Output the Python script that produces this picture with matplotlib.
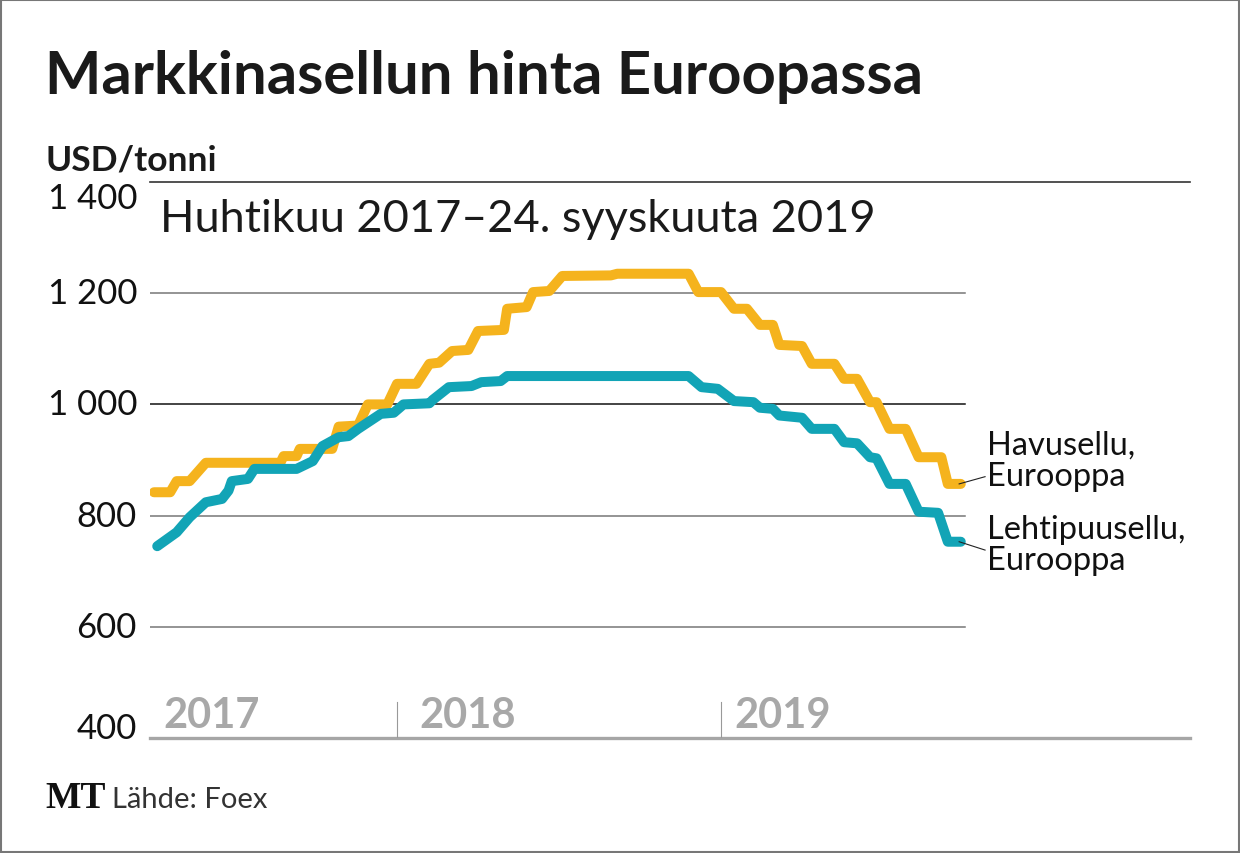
import matplotlib
matplotlib.use("Agg")
import matplotlib.pyplot as plt
from matplotlib import font_manager
from matplotlib.patches import Rectangle

# Havusellu, Eurooppa (USD/tonni), x = vuosi desimaalina
havu_x = [2017.25, 2017.30, 2017.32, 2017.36, 2017.41, 2017.64, 2017.65, 2017.69,
          2017.70, 2017.80, 2017.82, 2017.88, 2017.91, 2017.97, 2018.00, 2018.06,
          2018.10, 2018.13, 2018.17, 2018.22, 2018.25, 2018.33, 2018.34, 2018.40,
          2018.42, 2018.47, 2018.51, 2018.66, 2018.68, 2018.90, 2018.93, 2019.00,
          2019.04, 2019.08, 2019.12, 2019.16, 2019.18, 2019.25, 2019.28, 2019.35,
          2019.38, 2019.42, 2019.46, 2019.48, 2019.52, 2019.57, 2019.61, 2019.68,
          2019.70, 2019.74]
havu_y = [842, 842, 862, 862, 895, 895, 907, 907,
          920, 920, 960, 962, 1000, 1000, 1037, 1037,
          1073, 1075, 1096, 1098, 1132, 1134, 1172, 1175,
          1202, 1204, 1231, 1232, 1235, 1235, 1202, 1202,
          1172, 1172, 1143, 1143, 1107, 1105, 1073, 1073,
          1046, 1046, 1004, 1004, 956, 956, 905, 905,
          857, 857]

# Lehtipuusellu, Eurooppa
lehti_x = [2017.26, 2017.32, 2017.36, 2017.41, 2017.46, 2017.48, 2017.49, 2017.54,
           2017.56, 2017.69, 2017.74, 2017.77, 2017.82, 2017.85, 2017.88, 2017.95,
           2017.99, 2018.02, 2018.10, 2018.11, 2018.16, 2018.23, 2018.26, 2018.32,
           2018.34, 2018.90, 2018.94, 2018.99, 2019.04, 2019.10, 2019.12, 2019.16,
           2019.18, 2019.25, 2019.28, 2019.35, 2019.38, 2019.42, 2019.46, 2019.48,
           2019.52, 2019.57, 2019.61, 2019.67, 2019.70, 2019.74]
lehti_y = [745, 770, 797, 824, 830, 845, 862, 866,
           884, 884, 898, 925, 941, 943, 956, 983,
           985, 1000, 1002, 1008, 1031, 1033, 1040, 1042,
           1051, 1051, 1031, 1028, 1006, 1004, 994, 992,
           980, 976, 956, 956, 932, 930, 905, 903,
           857, 857, 807, 805, 753, 753]

y_ticks = [1400, 1200, 1000, 800, 600, 400]
y_labels = ["1 400", "1 200", "1 000", "800", "600", "400"]
vuodet = ["2017", "2018", "2019"]
vuosi_x = [2017.28, 2018.07, 2019.04]
vuosi_raja = [2018.0, 2019.0]

KELTAINEN = "#f5b31d"
TURKOOSI = "#12a4b6"

available = {f.name for f in font_manager.fontManager.ttflist}


def pick(cands):
    for c in cands:
        if c in available:
            return c
    return "DejaVu Sans"


SANS = pick(["Lato", "Open Sans", "Roboto", "Noto Sans"])
SERIF = pick(["Liberation Serif", "DejaVu Serif"])

fig = plt.figure(figsize=(12.4, 8.54), dpi=100)
ax = fig.add_axes([150 / 1240, 1 - 739 / 854, 1040 / 1240, 556 / 854])

x0 = 2018 - 247 / 324
x1 = 2018 + 793 / 324
xg = 2018 + 568 / 324
ax.set_xlim(x0, x1)
ax.set_ylim(400, 1400)
ax.axis("off")

# ruudukko
for v in [1200, 800, 600]:
    ax.plot([x0, xg], [v, v], color="#777777", lw=1.1, zorder=1)
ax.plot([x0, xg], [1000, 1000], color="#111111", lw=1.1, zorder=1)
ax.plot([x0, x1], [1400, 1400], color="#333333", lw=1.2, zorder=1, clip_on=False)
ax.plot([x0, x1], [400, 400], color="#a6a6a6", lw=2.4, zorder=1, clip_on=False)
for r in vuosi_raja:
    ax.plot([r, r], [400, 465], color="#999999", lw=0.8, zorder=1)

ax.plot(havu_x, havu_y, color=KELTAINEN, lw=7.2, solid_capstyle="round",
        solid_joinstyle="round", zorder=3)
ax.plot(lehti_x, lehti_y, color=TURKOOSI, lw=7.2, solid_capstyle="round",
        solid_joinstyle="round", zorder=4)

# y-akselin luvut
for v, lab in zip(y_ticks, y_labels):
    if v == 1400:
        ax.text(-13 / 1040, v - 28, lab, transform=ax.get_yaxis_transform(),
                ha="right", va="center", fontsize=25, family=SANS, color="#111111")
    elif v == 400:
        ax.text(-13 / 1040, v, lab, transform=ax.get_yaxis_transform(),
                ha="right", va="baseline", fontsize=25, family=SANS, color="#111111")
    else:
        ax.text(-13 / 1040, v, lab, transform=ax.get_yaxis_transform(),
                ha="right", va="center", fontsize=25, family=SANS, color="#111111")

for vx, lab in zip(vuosi_x, vuodet):
    ax.text(vx, 420, lab, ha="left", va="baseline", fontsize=30, color="#a8a8a8",
            family=SANS, fontweight="bold")

# sarjojen nimet
ax.plot([2019.735, 2019.815], [857, 870], color="#222222", lw=0.8, zorder=5, clip_on=False)
ax.plot([2019.735, 2019.815], [753, 738], color="#222222", lw=0.8, zorder=5, clip_on=False)
ax.text(2019.822, 900, "Havusellu,\nEurooppa", ha="left", va="center", fontsize=23.5,
        family=SANS, color="#111111", linespacing=1.05)
ax.text(2019.822, 748, "Lehtipuusellu,\nEurooppa", ha="left", va="center", fontsize=23.5,
        family=SANS, color="#111111", linespacing=1.05)

fig.text(45 / 1240, 1 - 94 / 854, "Markkinasellun hinta Euroopassa", ha="left",
         va="baseline", fontsize=43, fontweight="bold", family=SANS, color="#1a1a1a")
fig.text(45 / 1240, 1 - 170 / 854, "USD/tonni", ha="left", va="baseline",
         fontsize=25.5, fontweight="bold", family=SANS, color="#1a1a1a")
fig.text(160 / 1240, 1 - 232 / 854, "Huhtikuu 2017–24. syyskuuta 2019", ha="left",
         va="baseline", fontsize=32.5, family=SANS, color="#1a1a1a")
fig.text(45 / 1240, 1 - 808 / 854, "MT", ha="left", va="baseline", fontsize=27,
         fontweight="bold", family=SERIF, color="#111111")
fig.text(112 / 1240, 1 - 808 / 854, "Lähde: Foex", ha="left", va="baseline",
         fontsize=21, family=SANS, color="#333333")

fig.patches.append(Rectangle((0.0008, 0.001), 0.9984, 0.998, transform=fig.transFigure,
                             fill=False, edgecolor="#777777", lw=1.5))

fig.savefig("out.png", dpi=100)
